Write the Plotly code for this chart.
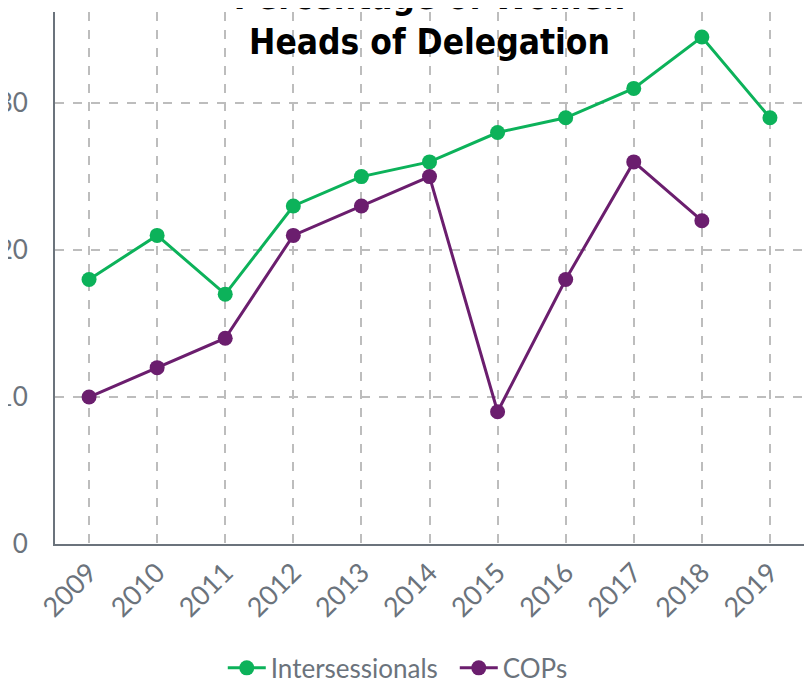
import plotly.graph_objects as go

years = [2009, 2010, 2011, 2012, 2013, 2014, 2015, 2016, 2017, 2018, 2019]
intersessionals = [18, 21, 17, 23, 25, 26, 28, 29, 31, 34.5, 29]
cop_years = [2009, 2010, 2011, 2012, 2013, 2014, 2015, 2016, 2017, 2018]
cops = [10, 12, 14, 21, 23, 25, 9, 18, 26, 22]

green = "#0cb25a"
purple = "#6b1e6e"
axis_grey = "#6b737c"
grid_grey = "#bdbdbd"

fig = go.Figure()

fig.add_trace(go.Scatter(
    x=years, y=intersessionals, mode="lines+markers", name="Intersessionals",
    line=dict(color=green, width=3),
    marker=dict(color=green, size=15),
))
fig.add_trace(go.Scatter(
    x=cop_years, y=cops, mode="lines+markers", name="COPs",
    line=dict(color=purple, width=3),
    marker=dict(color=purple, size=15),
))

# the page body adds an 8px offset, margins below allow for it
fig.update_layout(
    width=812, height=682,
    margin=dict(l=47, r=16, t=4, b=146, autoexpand=False),
    paper_bgcolor="white", plot_bgcolor="white",
    font=dict(family="Lato", color=axis_grey),
    title=dict(
        text="Percentage of Women<br>Heads of Delegation",
        font=dict(family="DejaVu Sans Condensed", size=35, color="black", weight="bold"),
        x=0.5, xanchor="center", xref="paper",
        y=0.999, yanchor="middle", yref="container",
    ),
    legend=dict(
        orientation="h", x=0.224, xanchor="left", y=-0.233, yanchor="middle",
        font=dict(family="Lato", size=26, color=axis_grey),
        itemwidth=38, entrywidth=179, entrywidthmode="pixels",
    ),
    showlegend=True,
)

fig.update_xaxes(
    range=[2008.5, 2019.5], dtick=1, tickangle=-45, automargin=False,
    tickfont=dict(family="Lato", size=27, color=axis_grey),
    showgrid=True, gridcolor=grid_grey, griddash="dash", gridwidth=1.5,
    showline=True, linecolor=axis_grey, linewidth=2,
    ticks="", zeroline=False,
)
fig.update_yaxes(
    range=[0, 36.2], dtick=10, automargin=False,
    tickfont=dict(family="Lato", size=26, color=axis_grey),
    showgrid=True, gridcolor=grid_grey, griddash="dash", gridwidth=1.5,
    showline=True, linecolor=axis_grey, linewidth=2,
    ticks="outside", ticklen=20, tickcolor="rgba(0,0,0,0)",
    zeroline=False,
)

fig.write_html("out.html")
